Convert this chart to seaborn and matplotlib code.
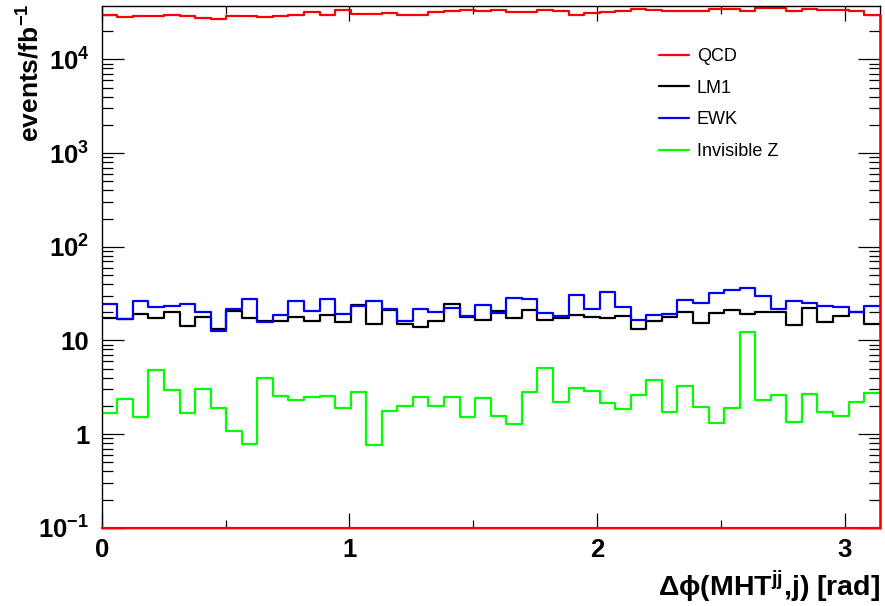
import numpy as np
import pandas as pd
import matplotlib
matplotlib.use("Agg")
import matplotlib.pyplot as plt
import matplotlib.ticker as mticker
from matplotlib.lines import Line2D
import seaborn as sns

# 50 bins in delta phi, 0..pi
n_bins = 50
edges = np.linspace(0, np.pi, n_bins + 1)
centers = 0.5 * (edges[:-1] + edges[1:])

qcd = [29600, 28200, 28700, 28700, 29400, 28700, 27500, 26900, 28700, 28700,
       28000, 28700, 29600, 31900, 29600, 33300, 30400, 30400, 31100, 29600,
       29600, 31600, 32400, 33300, 32700, 33300, 31600, 31600, 33300, 32400,
       29800, 30900, 31600, 32700, 34100, 33300, 32700, 32700, 32700, 34100,
       34100, 33000, 34900, 34900, 32400, 34600, 33300, 33300, 32700, 29600]
lm1 = [17.3, 16.9, 19.3, 17.5, 20.1, 14.1, 17.9, 13.4, 20.4, 17.5,
       16.2, 16.2, 17.6, 16.2, 18.6, 15.6, 23.8, 14.9, 21.1, 15.1,
       14.0, 16.2, 24.2, 17.9, 16.5, 20.7, 17.5, 21.2, 16.5, 17.2,
       18.6, 17.9, 17.3, 18.2, 13.4, 16.2, 17.9, 19.9, 15.4, 19.7,
       21.1, 19.1, 19.9, 19.9, 14.6, 22.3, 15.8, 18.4, 20.0, 15.1]
ewk = [24.2, 16.9, 26.5, 22.9, 23.4, 24.4, 20.2, 12.7, 21.6, 27.9,
       15.6, 18.6, 26.5, 20.7, 27.6, 19.1, 23.2, 26.3, 21.4, 16.2,
       21.4, 19.9, 22.0, 18.2, 24.0, 19.4, 28.3, 27.6, 19.6, 18.2,
       30.5, 21.8, 33.1, 22.9, 16.4, 18.6, 19.1, 27.2, 24.8, 31.7,
       34.5, 36.5, 30.0, 21.6, 26.5, 24.8, 23.4, 22.9, 20.1, 23.2]
invz = [1.66, 2.38, 1.53, 4.82, 2.93, 1.69, 3.00, 1.88, 1.08, 0.78,
        3.93, 2.55, 2.29, 2.46, 2.57, 1.88, 2.85, 0.76, 1.77, 2.01,
        2.50, 1.99, 2.50, 1.53, 2.44, 1.56, 1.27, 2.79, 5.11, 2.18,
        3.07, 2.88, 2.13, 1.86, 2.61, 3.77, 1.73, 3.25, 1.96, 1.30,
        1.91, 12.2, 2.31, 2.61, 1.35, 2.67, 1.73, 1.56, 2.18, 2.74]

samples = ["QCD", "LM1", "EWK", "Invisible Z"]
colors = {"QCD": "#ff0000", "LM1": "#000000", "EWK": "#0000ff", "Invisible Z": "#00ff00"}

y_ticks = [0.1, 1, 10, 100, 1e3, 1e4]
y_tick_labels = ["$10^{-1}$", "1", "10", "$10^{2}$", "$10^{3}$", "$10^{4}$"]
x_ticks = [0, 1, 2, 3]

sns.set_style("ticks")
plt.rcParams["font.family"] = ["Liberation Sans", "DejaVu Sans"]
plt.rcParams["mathtext.fontset"] = "custom"
plt.rcParams["mathtext.rm"] = "Liberation Sans:bold"
plt.rcParams["mathtext.it"] = "Liberation Sans:bold:italic"
plt.rcParams["mathtext.bf"] = "Liberation Sans:bold"
plt.rcParams["mathtext.default"] = "rm"
plt.rcParams["text.color"] = "black"
plt.rcParams["axes.labelcolor"] = "black"
plt.rcParams["xtick.color"] = "black"
plt.rcParams["ytick.color"] = "black"

df = pd.concat([
    pd.DataFrame({"dphi": centers, "w": vals, "sample": name})
    for name, vals in zip(samples, [qcd, lm1, ewk, invz])
], ignore_index=True)

fig = plt.figure(figsize=(8.85, 6.06), dpi=100)
ax = fig.add_axes([0.115, 0.129, 0.879, 0.861])
ax.set_yscale("log")

for name in samples:
    sub = df[df["sample"] == name]
    sns.histplot(data=sub, x="dphi", weights="w", bins=n_bins, binrange=(0, np.pi),
                 element="step", fill=False, color=colors[name], linewidth=1.6, ax=ax)

y_min, y_max = 0.1, 3.7e4
# ROOT closes the QCD outline down to the frame
ax.plot([edges[-1], edges[-1]], [y_min, qcd[-1]], color=colors["QCD"], lw=1.8,
        clip_on=False, zorder=5)
ax.plot([edges[0], edges[-1]], [y_min, y_min], color=colors["QCD"], lw=1.6,
        clip_on=False, zorder=5)

ax.set_xlim(0, np.pi)
ax.set_ylim(y_min, y_max)

ax.yaxis.set_major_locator(mticker.FixedLocator(y_ticks))
ax.yaxis.set_major_formatter(mticker.FixedFormatter(y_tick_labels))
ax.yaxis.set_minor_locator(mticker.LogLocator(base=10, subs=np.arange(2, 10)))
ax.yaxis.set_minor_formatter(mticker.NullFormatter())
ax.xaxis.set_major_locator(mticker.FixedLocator(x_ticks))
ax.xaxis.set_minor_locator(mticker.MultipleLocator(0.5))

ax.tick_params(which="both", direction="in", top=True, right=True, width=0.9, colors="black")
ax.tick_params(axis="x", which="major", length=11, labelsize=18.5, pad=7)
ax.tick_params(axis="x", which="minor", length=6)
ax.tick_params(axis="y", which="major", length=16, labelsize=18.5, pad=9)
ax.tick_params(axis="y", which="minor", length=8)
for lab in ax.get_xticklabels() + ax.get_yticklabels():
    lab.set_fontweight("bold")

for sp in ax.spines.values():
    sp.set_linewidth(1.0)
    sp.set_color("black")

ax.set_xlabel(r"Δϕ(MHT$^{jj}$,j) [rad]", fontsize=20.5, fontweight="bold", loc="right")
ax.set_ylabel(r"events/fb$^{-1}$", fontsize=19, fontweight="bold", loc="top")
ax.xaxis.set_label_coords(1.0, -0.077)
ax.yaxis.set_label_coords(-0.074, 1.005)

handles = [Line2D([], [], color=colors[s], lw=1.6) for s in samples]
ax.legend(handles, samples, loc="upper left", bbox_to_anchor=(0.716, 0.9195),
          frameon=False, fontsize=13, handlelength=1.66, handletextpad=0.44,
          labelspacing=0.81, borderpad=0, borderaxespad=0)

fig.savefig("out.png", dpi=100)
